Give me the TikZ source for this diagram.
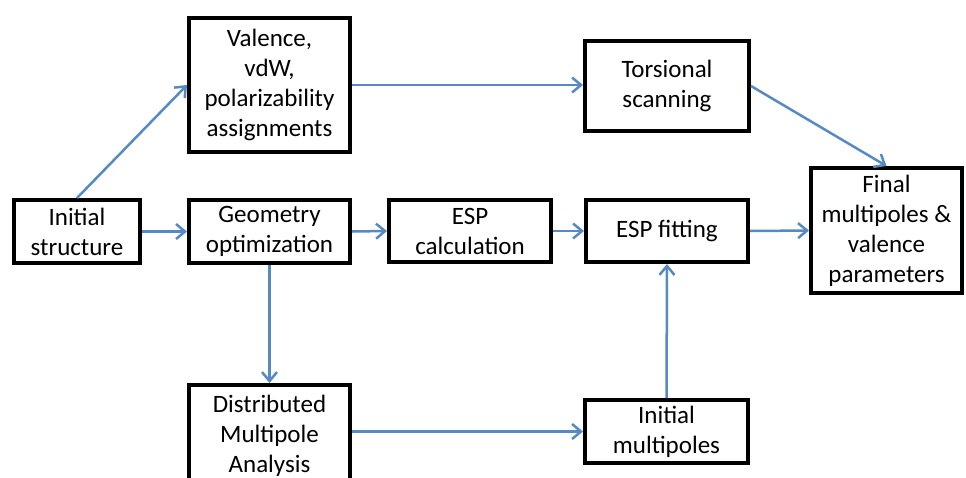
\documentclass[tikz,border=0pt]{standalone}
\usepackage{fontspec}
\setmainfont{Carlito}
\usetikzlibrary{arrows.meta}
\definecolor{arrowblue}{RGB}{86,138,196}
\begin{document}
\begin{tikzpicture}[x=1pt,y=-1pt,
  box/.style={draw=black, line width=4pt, fill=white, inner sep=0pt, align=center,
    font=\fontsize{25}{30}\selectfont},
  arr/.style={draw=arrowblue, line width=2.5pt,
    -{Straight Barb[length=9pt,width=15pt,line width=2.5pt]}}]
\useasboundingbox (0,0) rectangle (966,477);
\clip (0,0) rectangle (966,477);
\node[box, minimum width=126pt, minimum height=63pt] (init) at (77,231.5) {Initial\\structure};
\node[box, minimum width=161pt, minimum height=134pt] (val) at (269.5,85) {Valence,\\vdW,\\polarizability\\assignments};
\node[box, minimum width=161pt, minimum height=63pt] (geo) at (269.5,231.5) {Geometry\\optimization};
\node[box, minimum width=162pt, minimum height=62pt] (espc) at (470,231) {ESP\\calculation};
\node[box, minimum width=162pt, minimum height=62pt] (espf) at (667,231) {ESP fitting};
\node[box, minimum width=164pt, minimum height=90pt] (tors) at (667,86) {Torsional\\scanning};
\node[box, minimum width=151pt, minimum height=125pt] (final) at (886.5,230.5) {Final\\multipoles \&\\valence\\parameters};
\node[box, minimum width=161pt, minimum height=102pt] (dma) at (269.5,436) {Distributed\\Multipole\\Analysis};
\node[box, minimum width=163pt, minimum height=63pt] (inm) at (666.5,431.5) {Initial\\multipoles};
\draw[arr] (init.north) -- (val.west);
\draw[arr] (init.east) -- (geo.west);
\draw[arr] (val.east) -- (val.east -| tors.west);
\draw[arr] (tors.east) -- (final.north);
\draw[arr] (geo.east) -- (espc.west);
\draw[arr] (espc.east) -- (espf.west);
\draw[arr] (espf.east) -- (final.west);
\draw[arr] (geo.south) -- (dma.north);
\draw[arr] (inm.west -| dma.east) -- (inm.west);
\draw[arr] (inm.north) -- (espf.south);
\end{tikzpicture}
\end{document}
